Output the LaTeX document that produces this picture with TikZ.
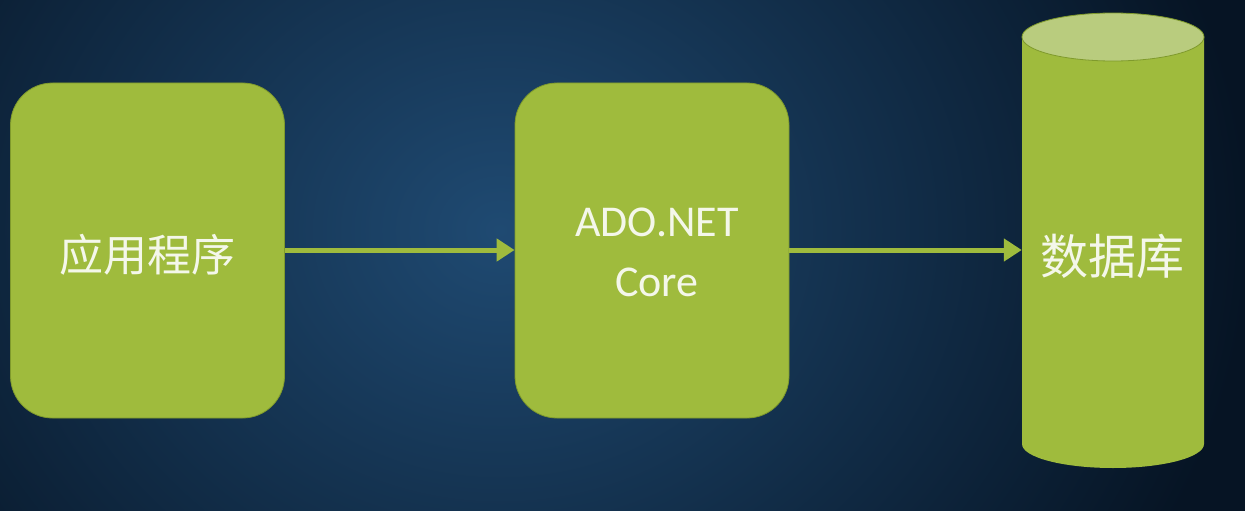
\documentclass[tikz,border=0pt]{standalone}
\usepackage{fontspec}
\setmainfont{Carlito}
\newfontfamily\cjk{Noto Sans CJK SC}[Scale=1]
\usetikzlibrary{arrows.meta}
\definecolor{boxgreen}{HTML}{9FBB3D}
\definecolor{lidgreen}{HTML}{B9CC7E}
\definecolor{edgegreen}{HTML}{7F9A2C}
\definecolor{bgin}{HTML}{1F4A72}
\definecolor{bgout}{HTML}{061424}
\definecolor{txt}{HTML}{F4F7EA}
\tikzset{
  box/.style={draw=edgegreen, line width=0.8pt, fill=boxgreen, rounded corners=42pt,
    minimum width=274pt, minimum height=335pt, inner sep=0pt, text=txt, align=center},
  conn/.style={draw=boxgreen, line width=5pt, -{Triangle[length=18pt,width=22pt]}},
}
\begin{document}
\begin{tikzpicture}[x=1pt,y=-1pt]
\useasboundingbox (0,0) rectangle (1245,511);
\shade[inner color=bgin, outer color=bgout] (-250,-420) rectangle (1250,880);
% boxes
\node[box] (app) at (147.5,250.5) {};
\node[text=txt, font=\cjk\fontsize{44}{50}\selectfont] (apptxt) at (147,255) {应用程序};
\node[box] (ado) at (652,250.5) {};
\node[text=txt, font=\fontsize{44}{60}\selectfont, align=center] (adotxt) at (657,252) {ADO.NET\\Core};
% cylinder
\fill[boxgreen] (1022,37) -- (1022,444) arc[start angle=180, end angle=360, x radius=91pt, y radius=24pt] -- (1204,37) -- cycle;
\filldraw[fill=lidgreen, draw=edgegreen, line width=0.8pt] (1113,37) ellipse[x radius=91pt, y radius=24pt];
\node[minimum width=182pt, minimum height=455pt, inner sep=0pt] (db) at (1113,241) {};
\node[text=txt, font=\cjk\fontsize{48}{54}\selectfont] (dbtxt) at (1112,256) {数据库};
% arrows
\draw[conn] (app.east |- 0,250) -- (ado.west |- 0,250);
\draw[conn] (ado.east |- 0,250) -- (db.west |- 0,250);
\end{tikzpicture}
\end{document}
